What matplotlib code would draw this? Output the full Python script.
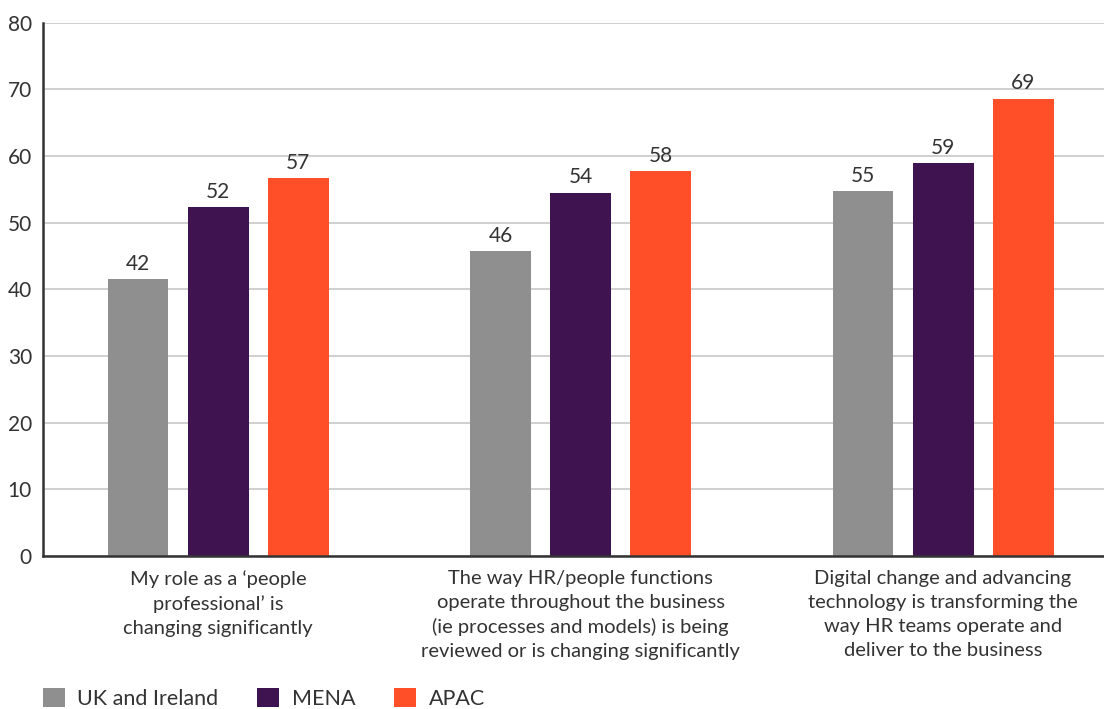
import matplotlib.pyplot as plt
import numpy as np

plt.rcParams["font.family"] = ["Lato", "DejaVu Sans"]

categories = [
    "My role as a \u2018people\nprofessional\u2019 is\nchanging significantly",
    "The way HR/people functions\noperate throughout the business\n(ie processes and models) is being\nreviewed or is changing significantly",
    "Digital change and advancing\ntechnology is transforming the\nway HR teams operate and\ndeliver to the business",
]
series = ["UK and Ireland", "MENA", "APAC"]
uk_ireland = [41.5, 45.7, 54.7]
mena = [52.3, 54.5, 58.9]
apac = [56.7, 57.7, 68.6]
bar_labels = [[42, 46, 55], [52, 54, 59], [57, 58, 69]]
colors = ["#8f8f8f", "#3e1350", "#ff4f28"]
text_color = "#333333"

fig = plt.figure(figsize=(11.04, 7.09), dpi=100)
ax = fig.add_axes([0.039, 0.216, 0.961, 0.752])

x = np.arange(len(categories))
step, width = 0.221, 0.168
handles = []
for i, (vals, col, name) in enumerate(zip([uk_ireland, mena, apac], colors, series)):
    bars = ax.bar(x + (i - 1) * step, vals, width, color=col, label=name, zorder=3)
    handles.append(bars)
    for b, lab in zip(bars, bar_labels[i]):
        ax.text(b.get_x() + b.get_width() / 2, b.get_height() + 0.8, str(lab),
                ha="center", va="bottom", fontsize=15, color=text_color)

ax.set_xlim(-0.483, 2.444)
ax.set_ylim(0, 80)
ax.set_yticks(range(0, 81, 10))
ax.grid(axis="y", color="#cccccc", linewidth=1.3, zorder=0)
ax.tick_params(axis="y", length=0, labelsize=15, labelcolor=text_color, pad=8)
ax.set_xticks(x)
ax.set_xticklabels(categories, fontsize=14.5, color=text_color, linespacing=1.5)
ax.tick_params(axis="x", length=0, pad=10)
for s in ["top", "right"]:
    ax.spines[s].set_visible(False)
for s in ["left", "bottom"]:
    ax.spines[s].set_color("#333333")
    ax.spines[s].set_linewidth(1.8)
    ax.spines[s].set_zorder(4)

fig.legend(handles=handles, labels=series, loc="lower left",
           bbox_to_anchor=(43 / 1104, 0.0), ncol=3, frameon=False,
           borderpad=0, borderaxespad=0,
           fontsize=15.5, handlelength=1.0, handleheight=1.0,
           columnspacing=1.8, handletextpad=0.6, labelcolor=text_color)

fig.savefig("out.png", dpi=100)
